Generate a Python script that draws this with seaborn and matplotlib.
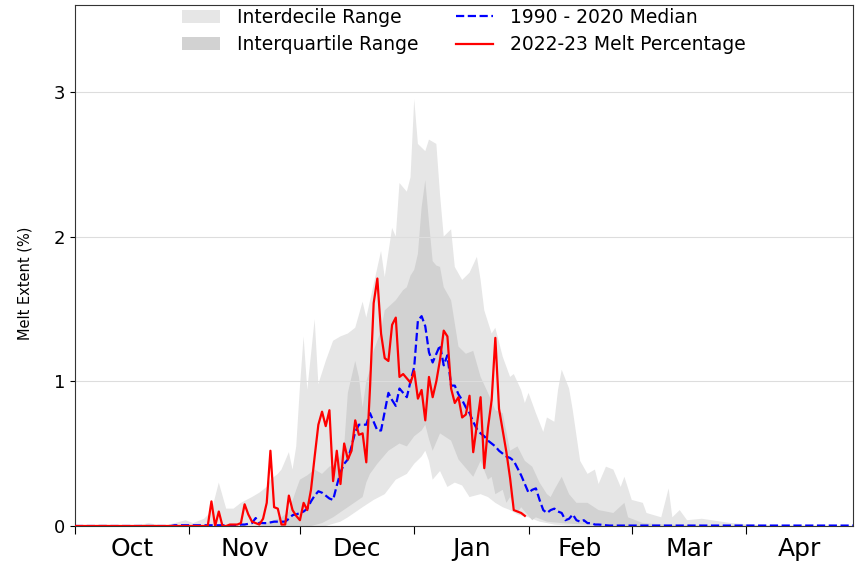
import matplotlib
matplotlib.use("Agg")
import matplotlib.pyplot as plt
from matplotlib.patches import Patch
from matplotlib.lines import Line2D
import numpy as np
import pandas as pd
import seaborn as sns

# ---------------- data (day 0 = 1 Oct) ----------------
month_labels = ["Oct", "Nov", "Dec", "Jan", "Feb", "Mar", "Apr"]
month_starts = [0, 31, 61, 92, 123, 151, 182]
month_mids = [15.5, 46, 76.5, 107.5, 137, 166.5, 196.5]

# 2022-23 melt percentage, daily from 1 Oct
melt_2223 = [
    0, 0, 0, 0, 0, 0, 0, 0, 0, 0,
    0, 0, 0, 0, 0, 0, 0, 0, 0, 0,
    0, 0, 0, 0, 0, 0, 0, 0, 0, 0,
    0, 0, 0, 0, 0, 0, 0.0, 0.17, 0.0, 0.10,
    0.0, 0.0, 0.01, 0.01, 0.01, 0.02, 0.15, 0.08, 0.03, 0.02,
    0.01, 0.05, 0.16, 0.52, 0.13, 0.12, 0.01, 0.01, 0.21, 0.11,
    0.07, 0.04, 0.16, 0.11, 0.25, 0.48, 0.70, 0.79, 0.69, 0.80,
    0.31, 0.52, 0.29, 0.57, 0.46, 0.52, 0.73, 0.63, 0.64, 0.44,
    0.95, 1.54, 1.71, 1.33, 1.16, 1.14, 1.39, 1.44, 1.03, 1.05,
    1.02, 0.99, 1.07, 0.88, 0.94, 0.73, 1.03, 0.89, 1.00, 1.15,
    1.35, 1.31, 0.95, 0.85, 0.89, 0.75, 0.77, 0.90, 0.51, 0.70,
    0.89, 0.40, 0.68, 0.87, 1.30, 0.81, 0.66, 0.51, 0.33, 0.11,
    0.10, 0.09, 0.07,
]

# 1990-2020 median, daily from 1 Oct to 30 Apr
median_9020 = [
    0, 0, 0, 0, 0, 0, 0, 0, 0, 0,
    0, 0, 0, 0, 0, 0, 0, 0, 0, 0,
    0, 0, 0, 0, 0, 0, 0, 0.005, 0.005, 0.005,
    0.005, 0.005, 0.005, 0.005, 0.005, 0.005, 0.005, 0.005, 0.005, 0.005,
    0.005, 0.005, 0.005, 0.005, 0.005, 0.01, 0.01, 0.015, 0.02, 0.055,
    0.02, 0.02, 0.02, 0.025, 0.03, 0.03, 0.03, 0.03, 0.05, 0.075,
    0.08, 0.09, 0.10, 0.12, 0.17, 0.21, 0.24, 0.23, 0.21, 0.19,
    0.18, 0.28, 0.37, 0.43, 0.46, 0.55, 0.65, 0.70, 0.70, 0.70,
    0.78, 0.72, 0.66, 0.66, 0.79, 0.92, 0.87, 0.83, 0.95, 0.92,
    0.89, 1.00, 1.10, 1.42, 1.45, 1.38, 1.20, 1.13, 1.19, 1.25,
    1.11, 1.18, 0.97, 0.97, 0.91, 0.87, 0.82, 0.78, 0.72, 0.67,
    0.64, 0.62, 0.59, 0.57, 0.55, 0.52, 0.50, 0.48, 0.47, 0.45,
    0.40, 0.35, 0.29, 0.23, 0.25, 0.26, 0.18, 0.11, 0.09, 0.11,
    0.12, 0.10, 0.09, 0.04, 0.05, 0.08, 0.04, 0.03, 0.04, 0.02,
    0.02, 0.01, 0.01, 0.008, 0.005, 0.003, 0.003, 0.003, 0.003, 0.003,
    0.003, 0.003, 0.003, 0.003, 0.003, 0.003, 0.003, 0.003, 0.003, 0.003,
    0.003, 0.003, 0.003, 0.003, 0.003, 0.003, 0.003, 0.003, 0.003, 0.003,
    0.003, 0.003, 0.003, 0.003, 0.003, 0.003, 0.003, 0.003, 0.003, 0.003,
    0.003, 0.003, 0.003, 0.003, 0.003, 0.003, 0.003, 0.003, 0.003, 0.003,
    0.003, 0.003, 0.003, 0.003, 0.003, 0.003, 0.003, 0.003, 0.003, 0.003,
    0.003, 0.003, 0.003, 0.003, 0.003, 0.003, 0.003, 0.003, 0.003, 0.003,
    0.003, 0.003,
]

# Interdecile range (10th / 90th percentile) boundary vertices
p90_days = [0, 8, 12, 18, 20, 24, 27, 30, 32, 34, 35, 37, 39, 41, 43, 45, 48, 50, 52, 53,
            55, 56, 58, 59, 60, 61, 62, 63, 65, 66, 68, 70, 72, 74, 76, 78, 79, 81, 83, 84,
            86, 87, 88, 90, 91, 92, 93, 95, 96, 98, 99, 100, 102, 103, 105, 107, 109, 110, 111, 113,
            114, 116, 118, 119, 121, 122, 123, 125, 127, 128, 130, 131, 132, 134, 135, 137, 139, 141, 142, 144,
            146, 148, 149, 151, 154, 155, 159, 161, 162, 164, 166, 170, 178, 189, 211]
p90_vals = [0, 0.01, 0, 0.01, 0.02, 0, 0.02, 0.04, 0.02, 0.04, 0.05, 0.10, 0.30, 0.12, 0.12, 0.16, 0.20, 0.23, 0.27, 0.32,
            0.36, 0.39, 0.51, 0.39, 0.55, 0.96, 1.31, 0.94, 1.43, 0.98, 1.14, 1.28, 1.31, 1.33, 1.37, 1.55, 1.44, 1.67, 1.90, 1.72,
            2.06, 2.00, 2.37, 2.31, 2.41, 2.95, 2.64, 2.59, 2.67, 2.64, 2.29, 2.00, 2.05, 1.79, 1.70, 1.75, 1.86, 1.70, 1.49, 1.33,
            1.37, 1.17, 1.03, 1.05, 0.94, 0.85, 0.92, 0.78, 0.65, 0.75, 0.72, 0.94, 1.08, 0.95, 0.80, 0.45, 0.36, 0.39, 0.29, 0.41,
            0.39, 0.27, 0.34, 0.18, 0.16, 0.09, 0.06, 0.26, 0.06, 0.11, 0.04, 0.05, 0.02, 0.0, 0.0]
p10_days = [0, 68, 72, 74, 78, 81, 84, 87, 90, 92, 94, 95, 96, 97, 99, 101, 103, 105, 107, 110,
            112, 114, 116, 118, 120, 123, 126, 130, 135, 211]
p10_vals = [0, 0, 0.03, 0.06, 0.13, 0.18, 0.22, 0.32, 0.36, 0.43, 0.48, 0.52, 0.45, 0.32, 0.38, 0.27, 0.30, 0.28, 0.20, 0.22,
            0.20, 0.16, 0.13, 0.11, 0.08, 0.06, 0.03, 0.01, 0, 0]

# Interquartile range (25th / 75th percentile) boundary vertices
p75_days = [0, 50, 53, 56, 58, 60, 61, 63, 65, 67, 69, 71, 73, 74, 76, 77, 78, 79, 80, 81,
            83, 84, 87, 89, 90, 91, 92, 93, 94, 95, 96, 97, 98, 99, 100, 102, 104, 106, 108, 110,
            112, 114, 116, 118, 120, 122, 124, 126, 128, 129, 130, 132, 134, 136, 139, 142, 146, 149, 150, 154,
            160, 170, 211]
p75_vals = [0, 0, 0.03, 0.06, 0.10, 0.25, 0.32, 0.35, 0.39, 0.36, 0.41, 0.43, 0.55, 0.92, 1.14, 1.03, 0.82, 1.00, 1.08, 1.21,
            1.35, 1.49, 1.56, 1.63, 1.65, 1.73, 1.77, 1.88, 2.20, 2.39, 2.10, 1.83, 1.80, 1.79, 1.65, 1.56, 1.24, 1.19, 1.21, 1.03,
            0.92, 0.80, 0.78, 0.52, 0.55, 0.45, 0.41, 0.30, 0.22, 0.20, 0.25, 0.34, 0.22, 0.16, 0.16, 0.11, 0.09, 0.16, 0.06, 0.02,
            0.01, 0.005, 0]
p25_days = [0, 64, 67, 70, 74, 78, 79, 80, 82, 85, 88, 90, 92, 94, 95, 96, 97, 99, 102, 104,
            106, 108, 110, 112, 113, 114, 116, 117, 118, 120, 121, 124, 125, 128, 132, 138, 145, 211]
p25_vals = [0, 0, 0.02, 0.06, 0.13, 0.20, 0.30, 0.36, 0.43, 0.52, 0.57, 0.55, 0.62, 0.66, 0.70, 0.60, 0.52, 0.64, 0.59, 0.46,
            0.40, 0.34, 0.45, 0.32, 0.34, 0.22, 0.25, 0.16, 0.20, 0.09, 0.13, 0.04, 0.06, 0.03, 0.02, 0.01, 0, 0]

labels = ["Interdecile Range", "Interquartile Range", "1990 - 2020 Median", "2022-23 Melt Percentage"]

# ---------------- figure ----------------
W, H = 858, 565
fig = plt.figure(figsize=(W / 100, H / 100), dpi=100)
ax = fig.add_axes([75 / W, 39 / H, 778 / W, 521 / H])

c_idr = "#e6e6e6"
c_iqr = "#d2d2d2"

ax.fill(np.r_[p90_days, p10_days[::-1]], np.r_[p90_vals, p10_vals[::-1]],
        color=c_idr, lw=0, zorder=1)
ax.fill(np.r_[p75_days, p25_days[::-1]], np.r_[p75_vals, p25_vals[::-1]],
        color=c_iqr, lw=0, zorder=1.1)

df_med = pd.DataFrame({"day": np.arange(len(median_9020)), "pct": median_9020})
df_red = pd.DataFrame({"day": np.arange(len(melt_2223)), "pct": melt_2223})
sns.lineplot(data=df_med, x="day", y="pct", ax=ax, color="blue", lw=1.6,
             linestyle="--", legend=False, zorder=3)
sns.lineplot(data=df_red, x="day", y="pct", ax=ax, color="red", lw=1.6,
             legend=False, zorder=4)

ax.set_xlim(0, 211)
ax.set_ylim(0, 3.6)
ax.set_xlabel("")
ax.set_ylabel("Melt Extent (%)", fontsize=10.5)
ax.yaxis.set_label_coords(-0.054, 0.466)

ax.set_yticks([0, 1, 2, 3])
ax.tick_params(axis="y", labelsize=13)
ax.yaxis.grid(True, color="#dddddd", lw=0.8)
ax.xaxis.grid(False)

ax.set_xticks(month_starts)
ax.set_xticklabels([""] * len(month_starts))
ax.set_xticks(month_mids, minor=True)
ax.set_xticklabels(month_labels, minor=True, fontsize=18)
ax.tick_params(axis="x", which="major", length=6)
ax.tick_params(axis="x", which="minor", length=0, pad=8)

for s in ax.spines.values():
    s.set_color("#333333")

handles = [
    Patch(facecolor=c_idr, edgecolor="none"),
    Patch(facecolor=c_iqr, edgecolor="none"),
    Line2D([], [], color="blue", lw=1.6, linestyle="--"),
    Line2D([], [], color="red", lw=1.6),
]
ax.legend(handles, labels, loc="upper center", bbox_to_anchor=(0.5, 1.0),
          ncol=2, frameon=False, fontsize=13.5, handlelength=2.0,
          handletextpad=0.9, columnspacing=2.0, labelspacing=0.45,
          borderaxespad=0.0, borderpad=0.15)

fig.savefig("out.png", dpi=100)
